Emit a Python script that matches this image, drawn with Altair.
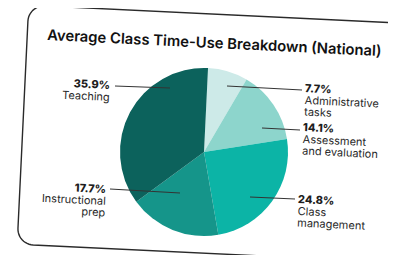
import math
import altair as alt
import pandas as pd

# ---------------- data ----------------
categories = ["Administrative tasks", "Assessment and evaluation", "Class management",
              "Instructional prep", "Teaching"]
values = [7.7, 14.1, 24.8, 17.7, 35.9]
pct_labels = ["7.7%", "14.1%", "24.8%", "17.7%", "35.9%"]
name_lines = ["Administrative\ntasks", "Assessment\nand evaluation", "Class\nmanagement",
              "Instructional\nprep", "Teaching"]
colors = ["#cdeae8", "#8dd5cc", "#0cb4a6", "#15958a", "#0c625c"]
title_text = "Average Class Time-Use Breakdown (National)"

# ---------------- layout (page pixels) ----------------
OFF = 8
TILT = 2.75
W, H = 380, 247
CX, CY, R = 204, 152, 84
label_x = [305, 303, 298, 106, 110]
label_y = [89, 128, 200, 190, 86]
label_side = ["left", "left", "left", "right", "right"]
line_x1 = [227, 262, 250, 180, 170]
line_y1 = [86, 128, 197, 193, 88]
line_x2 = [302, 300, 295, 110, 115]
line_y2 = [90, 130, 199, 189, 86]

FONT = "Inter"
INK = "#1d1d1d"

pie_df = pd.DataFrame({"cat": categories, "value": values, "idx": list(range(len(values)))})

lab_df = pd.DataFrame({
    "cat": categories, "pct": pct_labels, "name": name_lines, "side": label_side,
    "x": [v - OFF for v in label_x],
    "y": [v - OFF for v in label_y],
    "yn": [v - OFF + 6 for v in label_y],
    "x1": [v - OFF for v in line_x1], "y1": [v - OFF for v in line_y1],
    "x2": [v - OFF for v in line_x2], "y2": [v - OFF for v in line_y2],
})

# card outline (tilted rounded rectangle)
a = math.radians(TILT)
ca, sa = math.cos(a), math.sin(a)
u0, u1, v0, v1, rr = 28.9, 408.3, 3.8, 243.1, 16
pts = []
for cu, cv, s, e in [(u1 - rr, v0 + rr, -90, 0), (u1 - rr, v1 - rr, 0, 90),
                     (u0 + rr, v1 - rr, 90, 180), (u0 + rr, v0 + rr, 180, 270)]:
    for k in range(13):
        t = math.radians(s + (e - s) * k / 12)
        u = cu + rr * math.cos(t)
        v = cv + rr * math.sin(t)
        pts.append((u * ca - v * sa - OFF, u * sa + v * ca - OFF))
pts.append(pts[0])
card_df = pd.DataFrame({"x": [p[0] for p in pts], "y": [p[1] for p in pts], "i": list(range(len(pts)))})

PX = lambda f: alt.X(f, type="quantitative", scale=None, axis=None)
PY = lambda f: alt.Y(f, type="quantitative", scale=None, axis=None)

card = alt.Chart(card_df).mark_line(color="#2a2a2a", strokeWidth=1.4).encode(
    x=PX("x"), y=PY("y"), order=alt.Order("i:Q"))

pie = alt.Chart(pie_df).mark_arc(outerRadius=R).encode(
    theta=alt.Theta("value:Q", stack=True,
                    scale=alt.Scale(range=[a, a + 2 * math.pi])),
    color=alt.Color("cat:N", sort=None,
                    scale=alt.Scale(domain=categories, range=colors), legend=None),
    order=alt.Order("idx:Q"),
    x=alt.value(CX - OFF), y=alt.value(CY - OFF),
)

rules = alt.Chart(lab_df).mark_rule(color="#333333", strokeWidth=1).encode(
    x=PX("x1"), y=PY("y1"), x2="x2", y2="y2")

layers = [card, pie, rules]
for side in ["left", "right"]:
    sub = lab_df[lab_df.side == side]
    layers.append(alt.Chart(sub).mark_text(
        align=side, baseline="middle", font=FONT, fontSize=11, fontWeight=800,
        color=INK, angle=TILT).encode(x=PX("x"), y=PY("y"), text="pct:N"))
    layers.append(alt.Chart(sub).mark_text(
        align=side, baseline="top", font=FONT, fontSize=11, fontWeight=400,
        color="#2a2a2a", angle=TILT, lineBreak="\n", lineHeight=11.5).encode(
        x=PX("x"), y=PY("yn"), text="name:N"))

title = alt.Chart(pd.DataFrame({"t": [title_text]})).mark_text(
    align="left", baseline="alphabetic", font=FONT, fontSize=14.8, fontWeight=600,
    color="#111111", angle=TILT).encode(
    x=alt.value(47 - OFF), y=alt.value(40 - OFF), text="t:N")
layers.append(title)

chart = alt.layer(*layers).properties(
    width=W, height=H, padding=0,
    autosize=alt.AutoSizeParams(type="none"),
).configure_view(stroke=None)

chart.save("out.html", embed_options={"renderer": "svg", "actions": False})
